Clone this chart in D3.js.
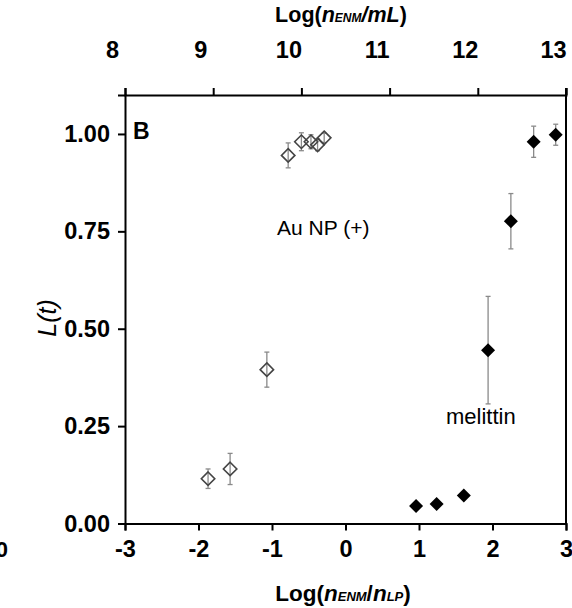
<!DOCTYPE html>
<html><head><meta charset="utf-8">
<script src="https://cdn.jsdelivr.net/npm/d3@7"></script>
<style>body{margin:0;background:#fff}svg{display:block;font-family:"Liberation Sans",Arial,sans-serif}</style>
</head><body>
<script>
// Au NP (+) series (open diamonds)
const auX = [-1.87, -1.57, -1.07, -0.78, -0.60, -0.47, -0.38, -0.29];
const auY = [0.115, 0.140, 0.395, 0.945, 0.980, 0.980, 0.972, 0.990];
const auErr = [0.025, 0.040, 0.045, 0.032, 0.023, 0.018, 0.015, 0.012];
// melittin series (filled diamonds)
const melX = [0.96, 1.24, 1.61, 1.94, 2.25, 2.56, 2.86];
const melY = [0.045, 0.050, 0.072, 0.445, 0.776, 0.980, 0.998];
const melErr = [0, 0, 0, 0.138, 0.071, 0.040, 0.027];
// tick labels
const bottomTicks = [-3, -2, -1, 0, 1, 2, 3];
const topTicks = [8, 9, 10, 11, 12, 13];
const yTicks = [0, 0.25, 0.5, 0.75, 1.0];

const W = 572, H = 608;
const m = {left: 125, right: 6, top: 95, bottom: 84.5};
const svg = d3.select("body").append("svg").attr("width", W).attr("height", H);

const x = d3.scaleLinear().domain([-3, 3]).range([m.left, W - m.right]);
const xTop = d3.scaleLinear().domain([8, 13]).range([m.left, W - m.right]);
const y = d3.scaleLinear().domain([0, 1.1]).range([H - m.bottom, m.top]);

const tickFont = "23.5px";
const fmtInt = d => String(d).replace("\u2212", "-");
// bottom axis
const gb = svg.append("g").attr("transform", `translate(0,${H - m.bottom})`)
  .call(d3.axisBottom(x).tickValues(bottomTicks).tickFormat(fmtInt).tickSize(7).tickPadding(10));
// left axis
const gl = svg.append("g").attr("transform", `translate(${m.left},0)`)
  .call(d3.axisLeft(y).tickValues(yTicks).tickFormat(d3.format(".2f")).tickSize(7).tickPadding(8));
// top axis
const gt = svg.append("g").attr("transform", `translate(0,${m.top})`)
  .call(d3.axisTop(xTop).tickValues(topTicks).tickFormat(fmtInt).tickSize(7).tickPadding(30));
gt.selectAll(".tick text").attr("dx", -13);
// right axis line only
svg.append("line").attr("x1", W - m.right).attr("x2", W - m.right).attr("y1", m.top - 7).attr("y2", H - m.bottom)
  .attr("stroke", "#000").attr("stroke-width", 2);

[gb, gl, gt].forEach(g => {
  g.selectAll(".domain").attr("stroke", "#000").attr("stroke-width", 2);
  g.selectAll(".tick line").attr("stroke", "#000").attr("stroke-width", 2);
  g.selectAll(".tick text").attr("fill", "#000").style("font-size", tickFont).style("font-weight", "bold")
    .style("font-family", "'Liberation Sans',Arial,sans-serif");
});

// axis titles
const bt = svg.append("text").attr("x", 343).attr("y", 601)
  .attr("text-anchor", "middle").style("font-size", "22.5px").style("font-weight", "bold");
bt.append("tspan").text("Log(");
bt.append("tspan").text("n").style("font-style", "italic");
bt.append("tspan").text("ENM").style("font-style", "italic").style("font-size", "13px");
bt.append("tspan").text("/");
bt.append("tspan").text("n").style("font-style", "italic");
bt.append("tspan").text("LP").style("font-style", "italic").style("font-size", "13px");
bt.append("tspan").text(")");

const tt = svg.append("text").attr("x", 341).attr("y", 22)
  .attr("text-anchor", "middle").style("font-size", "21.5px").style("font-weight", "bold");
tt.append("tspan").text("Log(");
tt.append("tspan").text("n").style("font-style", "italic");
tt.append("tspan").text("ENM").style("font-style", "italic").style("font-size", "12px");
tt.append("tspan").text("/mL").style("font-style", "italic");
tt.append("tspan").text(")");

svg.append("text").attr("transform", `translate(56,318) rotate(-90)`)
  .attr("text-anchor", "middle").style("font-size", "25px").style("font-style", "italic").text("L(t)");

svg.append("text").attr("x", 133).attr("y", 139).style("font-size", "23px").style("font-weight", "bold").text("B");
svg.append("text").attr("x", 277).attr("y", 235).style("font-size", "21px").text("Au NP (+)");
svg.append("text").attr("x", 446).attr("y", 424).style("font-size", "22px").text("melittin");
svg.append("text").attr("x", 8).attr("y", 557).attr("text-anchor", "end")
  .style("font-size", "22px").style("font-weight", "bold").text("0");

// data
const au = auX.map((v, i) => ({x: v, y: auY[i], e: auErr[i]}));
const mel = melX.map((v, i) => ({x: v, y: melY[i], e: melErr[i]}));
const diamond = d3.symbol().type(d3.symbolDiamond2).size(115);
const diamondF = d3.symbol().type(d3.symbolDiamond2).size(125);

function errBars(data) {
  const g = svg.append("g").attr("stroke", "#8a8a8a").attr("stroke-width", 1.3);
  data.filter(d => d.e > 0).forEach(d => {
    g.append("line").attr("x1", x(d.x)).attr("x2", x(d.x)).attr("y1", y(d.y - d.e)).attr("y2", y(d.y + d.e));
    [d.y - d.e, d.y + d.e].forEach(v => g.append("line").attr("x1", x(d.x) - 2.5).attr("x2", x(d.x) + 2.5)
      .attr("y1", y(v)).attr("y2", y(v)));
  });
}
errBars(au);
errBars(mel);

svg.append("g").selectAll("path").data(au).join("path")
  .attr("d", diamond).attr("transform", d => `translate(${x(d.x)},${y(d.y)})`)
  .attr("fill", "none").attr("stroke", "#444").attr("stroke-width", 1.6);
svg.append("g").selectAll("path").data(mel).join("path")
  .attr("d", diamondF).attr("transform", d => `translate(${x(d.x)},${y(d.y)})`)
  .attr("fill", "#000");
</script>
</body></html>
